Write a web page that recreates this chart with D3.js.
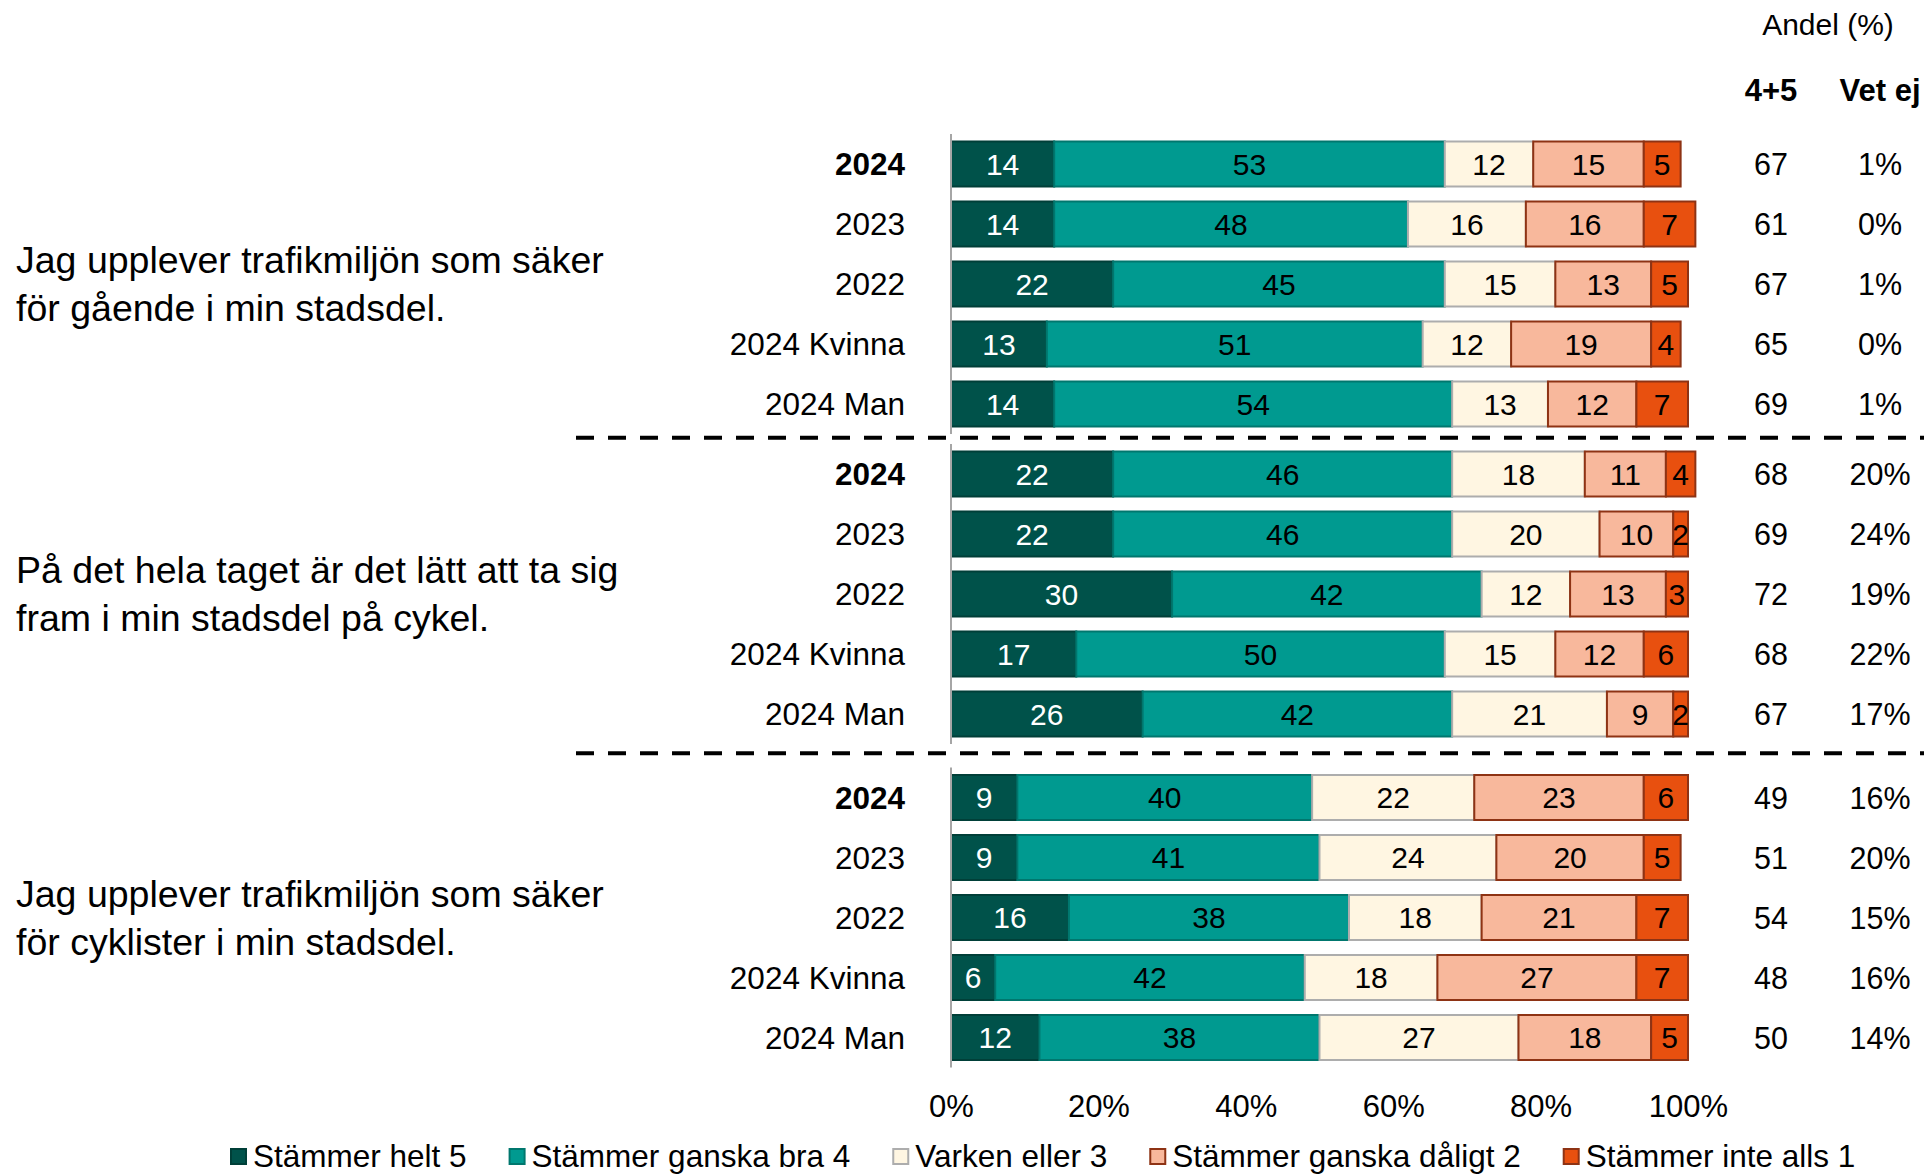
<!DOCTYPE html>
<html>
<head>
<meta charset="utf-8">
<script src="https://cdn.jsdelivr.net/npm/d3@7"></script>
<style>
  html, body { margin: 0; padding: 0; background: #fff; }
  svg text { font-family: "Liberation Sans", Arial, Helvetica, sans-serif; }
</style>
</head>
<body>
<svg id="chart" width="1924" height="1174"></svg>
<script>
// Response categories (stacked left to right)
const seriesNames = [
  "Stämmer helt 5",
  "Stämmer ganska bra 4",
  "Varken eller 3",
  "Stämmer ganska dåligt 2",
  "Stämmer inte alls 1"
];

// Row labels within each question block
const rowLabels = ["2024", "2023", "2022", "2024 Kvinna", "2024 Man"];

// Question texts (two lines each)
const questionGaende = ["Jag upplever trafikmiljön som säker", "för gående i min stadsdel."];
const questionCykel = ["På det hela taget är det lätt att ta sig", "fram i min stadsdel på cykel."];
const questionCyklister = ["Jag upplever trafikmiljön som säker", "för cyklister i min stadsdel."];

// Shares (%) per row, in series order
const valuesGaende = [
  [14, 53, 12, 15, 5],
  [14, 48, 16, 16, 7],
  [22, 45, 15, 13, 5],
  [13, 51, 12, 19, 4],
  [14, 54, 13, 12, 7]
];
const valuesCykel = [
  [22, 46, 18, 11, 4],
  [22, 46, 20, 10, 2],
  [30, 42, 12, 13, 3],
  [17, 50, 15, 12, 6],
  [26, 42, 21, 9, 2]
];
const valuesCyklister = [
  [9, 40, 22, 23, 6],
  [9, 41, 24, 20, 5],
  [16, 38, 18, 21, 7],
  [6, 42, 18, 27, 7],
  [12, 38, 27, 18, 5]
];

// Side columns: share agreeing (4+5) and "Vet ej"
const top45Gaende = [67, 61, 67, 65, 69];
const top45Cykel = [68, 69, 72, 68, 67];
const top45Cyklister = [49, 51, 54, 48, 50];
const vetEjGaende = ["1%", "0%", "1%", "0%", "1%"];
const vetEjCykel = ["20%", "24%", "19%", "22%", "17%"];
const vetEjCyklister = ["16%", "20%", "15%", "16%", "14%"];

// Axis ticks
const xTicks = [0, 20, 40, 60, 80, 100];

const fills = ["#00524A", "#009A90", "#FFF6E2", "#F8B89C", "#E8500F"];
const strokes = ["#003F38", "#00776E", "#ADADAD", "#8E3314", "#8E3314"];
const textColors = ["#ffffff", "#000000", "#000000", "#000000", "#000000"];

const blocks = [
  { question: questionGaende, values: valuesGaende, top45: top45Gaende, vetEj: vetEjGaende, range: [134, 434] },
  { question: questionCykel, values: valuesCykel, top45: top45Cykel, vetEj: vetEjCykel, range: [444, 744] },
  { question: questionCyklister, values: valuesCyklister, top45: top45Cyklister, vetEj: vetEjCyklister, range: [767.5, 1067.5] }
];

const svg = d3.select("#chart");
const x = d3.scaleLinear().domain([0, 100]).range([951, 1688]);
const col45X = 1771;
const colVetX = 1880;
const FS = 30;

// Column headers
svg.append("text").attr("x", 1828).attr("y", 35).attr("text-anchor", "middle")
  .attr("font-size", 30).text("Andel (%)");
svg.append("text").attr("x", col45X).attr("y", 101).attr("text-anchor", "middle")
  .attr("font-size", 31).attr("font-weight", "bold").text("4+5");
svg.append("text").attr("x", colVetX).attr("y", 101).attr("text-anchor", "middle")
  .attr("font-size", 31).attr("font-weight", "bold").text("Vet ej");

blocks.forEach((b, bi) => {
  const y = d3.scaleBand().domain(rowLabels).range(b.range)
    .paddingInner(0.25).paddingOuter(0.125);
  const g = svg.append("g").attr("class", "block");

  // stacked segments
  const rows = b.values.map((vals, ri) => {
    let acc = 0;
    return vals.map((v, si) => {
      const s = { row: rowLabels[ri], si, v, x0: acc, x1: acc + v };
      acc += v;
      return s;
    });
  });

  rows.forEach(segs => {
    const rg = g.append("g");
    rg.selectAll("rect").data(segs).join("rect")
      .attr("x", d => x(d.x0))
      .attr("y", d => y(d.row))
      .attr("width", d => x(d.x1) - x(d.x0))
      .attr("height", y.bandwidth())
      .attr("fill", d => fills[d.si])
      .attr("stroke", d => strokes[d.si])
      .attr("stroke-width", 2);
    rg.selectAll("text").data(segs).join("text")
      .attr("x", d => (x(d.x0) + x(d.x1)) / 2)
      .attr("y", d => y(d.row) + y.bandwidth() / 2 + FS * 0.36)
      .attr("text-anchor", "middle")
      .attr("font-size", FS)
      .attr("fill", d => textColors[d.si])
      .text(d => d.v);
  });

  // category axis line
  g.append("line")
    .attr("x1", x(0)).attr("x2", x(0))
    .attr("y1", b.range[0]).attr("y2", b.range[1])
    .attr("stroke", "#A6A6A6").attr("stroke-width", 2);

  // row labels
  g.selectAll("text.rowlab").data(rowLabels).join("text")
    .attr("class", "rowlab")
    .attr("x", 905)
    .attr("y", d => y(d) + y.bandwidth() / 2 + 11)
    .attr("text-anchor", "end")
    .attr("font-size", 31.5)
    .attr("font-weight", (d, i) => i === 0 ? "bold" : "normal")
    .text(d => d);

  // side columns
  g.selectAll("text.c45").data(b.top45).join("text")
    .attr("class", "c45")
    .attr("x", col45X)
    .attr("y", (d, i) => y(rowLabels[i]) + y.bandwidth() / 2 + 11)
    .attr("text-anchor", "middle").attr("font-size", 30.5)
    .text(d => d);
  g.selectAll("text.cvet").data(b.vetEj).join("text")
    .attr("class", "cvet")
    .attr("x", colVetX)
    .attr("y", (d, i) => y(rowLabels[i]) + y.bandwidth() / 2 + 11)
    .attr("text-anchor", "middle").attr("font-size", 30.5)
    .text(d => d);

  // question text, centred on the block
  const mid = (b.range[0] + b.range[1]) / 2;
  const qt = g.append("text").attr("font-size", 37.5).attr("fill", "#000");
  b.question.forEach((line, li) => {
    qt.append("tspan").attr("x", 16)
      .attr("y", mid - 24 + 13 + li * 48)
      .text(line);
  });
});

// dashed separators between blocks
[437.7, 753.3].forEach(yy => {
  svg.append("line")
    .attr("x1", 576).attr("x2", 1924)
    .attr("y1", yy).attr("y2", yy)
    .attr("stroke", "#000").attr("stroke-width", 4)
    .attr("stroke-dasharray", "18 14");
});

// percentage axis under the last block
const xAxis = d3.axisBottom(x).tickValues(xTicks).tickSize(0).tickFormat(d => d + "%");
const ax = svg.append("g").attr("transform", "translate(0,1092)").call(xAxis);
ax.select(".domain").remove();
ax.selectAll("text").attr("font-size", 31).attr("fill", "#000")
  .style("font-family", "\"Liberation Sans\", Arial, sans-serif");

// legend
const legend = svg.append("g").attr("transform", "translate(231,1156)");
let lx = 0;
seriesNames.forEach((name, i) => {
  const item = legend.append("g").attr("transform", `translate(${lx},0)`);
  item.append("rect").attr("x", 0).attr("y", -7).attr("width", 15).attr("height", 15)
    .attr("fill", fills[i]).attr("stroke", strokes[i]).attr("stroke-width", 2);
  const t = item.append("text").attr("x", 22).attr("y", 11).attr("font-size", 31.5).text(name);
  lx += 22 + t.node().getComputedTextLength() + 43;
});
</script>
</body>
</html>
